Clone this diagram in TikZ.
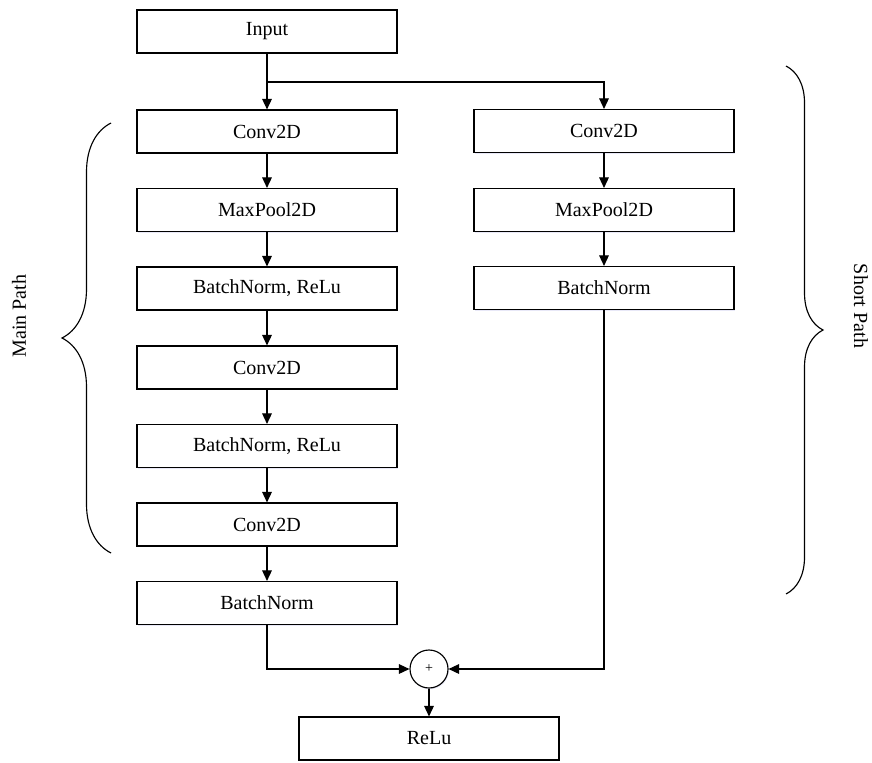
\documentclass[tikz,border=0pt]{standalone}
\usepackage{fontspec}
\setmainfont{Liberation Serif}
\usetikzlibrary{arrows.meta,decorations.pathreplacing,shadows}

\begin{document}
\begin{tikzpicture}[
        font=\fontsize{11.4}{13}\selectfont,
        layer/.style={draw, line width=0.65pt, fill=white, minimum width=5.2cm, minimum height=0.86cm,
            drop shadow={shadow xshift=0.5pt, shadow yshift=-0.7pt, fill=blue!50!gray, opacity=0.12}},
        adder/.style={draw, circle, line width=0.65pt, fill=white, minimum size=0.76cm, inner sep=0pt,
            drop shadow={shadow xshift=0.5pt, shadow yshift=-0.7pt, fill=blue!50!gray, opacity=0.12}},
        arr/.style={line width=0.65pt, -{Triangle[length=6pt, width=5.5pt]}},
        bracket/.style={line width=0.65pt, decorate}
    ]
        \useasboundingbox (0,0) rectangle (17.44,-15.24);
        % input
        \node[layer] (input) at (5.34, -0.63) {Input};
        % main path
        \node[layer] (conv1) at (5.34,  -2.63) {Conv2D};
        \node[layer] (pool1) at (5.34,  -4.20) {MaxPool2D};
        \node[layer] (bnr1)  at (5.34,  -5.77) {BatchNorm, ReLu};
        \node[layer] (conv2) at (5.34,  -7.35) {Conv2D};
        \node[layer] (bnr2)  at (5.34,  -8.92) {BatchNorm, ReLu};
        \node[layer] (conv3) at (5.34, -10.49) {Conv2D};
        \node[layer] (bn3)   at (5.34, -12.06) {BatchNorm};
        % short path
        \node[layer] (sconv) at (12.08, -2.62) {Conv2D};
        \node[layer] (spool) at (12.08, -4.20) {MaxPool2D};
        \node[layer] (sbn)   at (12.08, -5.76) {BatchNorm};
        % sum and output
        \node[adder] (add)  at (8.58, -13.38) {\footnotesize +};
        \node[layer] (relu) at (8.58, -14.77) {ReLu};
        % connectors
        \coordinate (split) at (5.34, -1.64);
        \draw[arr] (input) -- (conv1);
        \draw[arr] (split) -| (sconv);
        \draw[arr] (conv1) -- (pool1);
        \draw[arr] (pool1) -- (bnr1);
        \draw[arr] (bnr1)  -- (conv2);
        \draw[arr] (conv2) -- (bnr2);
        \draw[arr] (bnr2)  -- (conv3);
        \draw[arr] (conv3) -- (bn3);
        \draw[arr] (sconv) -- (spool);
        \draw[arr] (spool) -- (sbn);
        \draw[arr] (bn3)   |- (add);
        \draw[arr] (sbn)   |- (add);
        \draw[arr] (add)   -- (relu);
        % braces
        \coordinate (mainbot)  at (2.22, -11.06);
        \coordinate (maintop)  at (2.22,  -2.46);
        \coordinate (shorttop) at (15.72, -1.32);
        \coordinate (shortbot) at (15.72, -11.88);
        \draw[bracket, decoration={brace, amplitude=0.98cm}] (mainbot) -- (maintop);
        \draw[bracket, decoration={brace, amplitude=0.74cm}] (shorttop) -- (shortbot);
        \node[rotate=90]  (mainlbl)  at (0.38, -6.32) {Main Path};
        \node[rotate=-90] (shortlbl) at (17.22, -6.12) {Short Path};
    \end{tikzpicture}
\end{document}
